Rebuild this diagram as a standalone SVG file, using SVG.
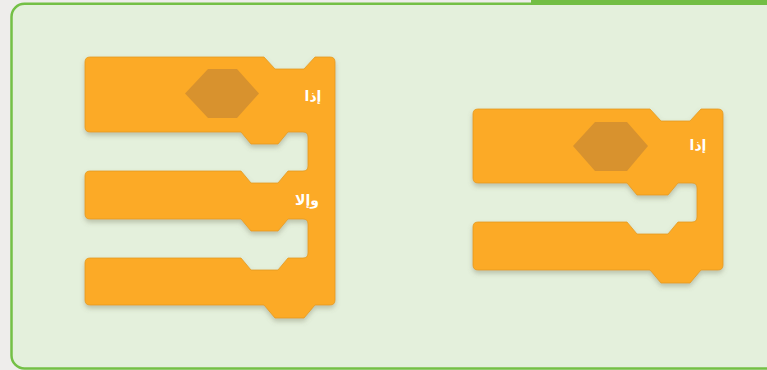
<svg xmlns="http://www.w3.org/2000/svg" width="767" height="370" viewBox="0 0 767 370">
  <defs>
    <filter id="shadow" x="-10%" y="-10%" width="120%" height="130%">
      <feDropShadow dx="0" dy="3" stdDeviation="2.5" flood-color="#6b6b50" flood-opacity="0.35"/>
    </filter>
    <style>
      .block { fill: #fcaa27; stroke: #e59a1d; stroke-width: 0.8; filter: url(#shadow); }
      .hex { fill: #d8922e; }
      .lbl { font-family: "DejaVu Sans", "Noto Sans", sans-serif; font-weight: bold; font-size: 14px; fill: #ffffff; text-anchor: middle; dominant-baseline: central; }
    </style>
  </defs>
  <rect x="0" y="0" width="767" height="370" fill="#eeedeb"/>
  <g id="frame">
    <rect x="11.5" y="3.8" width="800" height="364.7" rx="13" ry="13" fill="#e4f0dc" stroke="#74c046" stroke-width="2.5"/>
    <rect x="531" y="0" width="236" height="5" fill="#72be44"/>
  </g>
  <g id="if-else-block">
    <path class="block" d="M85 62 Q85 57 90 57 L264 57 L275 69 L304 69 L315 57 L330 57 Q335 57 335 62 L335 300 Q335 305 330 305 L315 305 L304 318 L275 318 L264 305 L90 305 Q85 305 85 300 L85 263 Q85 258 90 258 L241 258 L251 270 L278 270 L288 258 L303 258 Q308 258 308 253 L308 224 Q308 219 303 219 L288 219 L278 231 L251 231 L241 219 L90 219 Q85 219 85 214 L85 176 Q85 171 90 171 L241 171 L251 183 L278 183 L288 171 L303 171 Q308 171 308 166 L308 137 Q308 132 303 132 L288 132 L278 144 L251 144 L241 132 L90 132 Q85 132 85 127 Z"/>
    <polygon class="hex" points="185,93.5 208,69 237,69 259,93.5 237,118 208,118"/>
    <text class="lbl" x="313" y="96">إذا</text>
    <text class="lbl" x="307" y="200">وإلا</text>
  </g>
  <g id="if-block">
    <path class="block" d="M473 114 Q473 109 478 109 L650 109 L661 121 L690 121 L701 109 L718 109 Q723 109 723 114 L723 265 Q723 270 718 270 L701 270 L690 283 L661 283 L650 270 L478 270 Q473 270 473 265 L473 227 Q473 222 478 222 L627 222 L637 234 L668 234 L678 222 L692 222 Q697 222 697 217 L697 188 Q697 183 692 183 L678 183 L668 195 L637 195 L627 183 L478 183 Q473 183 473 178 Z"/>
    <polygon class="hex" points="573,146 595,122 627,122 648,146 627,171 595,171"/>
    <text class="lbl" x="698" y="145">إذا</text>
  </g>
  <g id="connectors"></g>
</svg>
